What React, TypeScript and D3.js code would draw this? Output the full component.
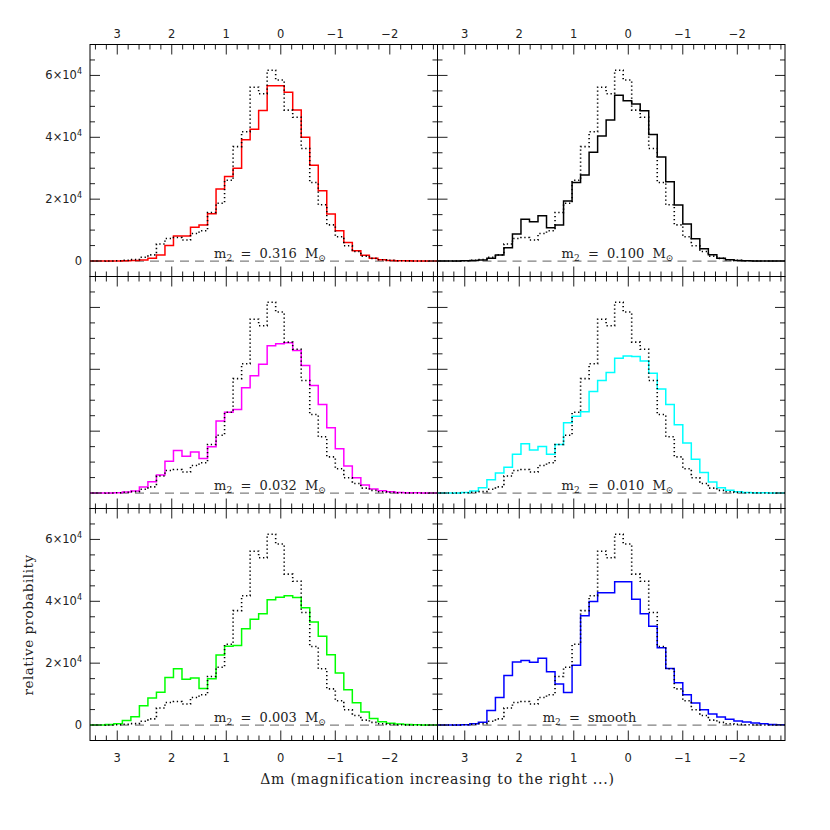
import React from 'react';
import * as d3 from 'd3';

// Histogram bins: edges start at 3.53125 mag and step by -0.15625 mag (41 bins)
const binEdgeStart = 3.53125;
const binWidth = 0.15625;

const xTickLabels = [3, 2, 1, 0, -1, -2];
const yTickValues = [0, 20000, 40000, 60000];
const yTickMantissa = ['0', '2', '4', '6'];

const referenceDotted = [0, 0, 30, 100, 250, 450, 1200, 2000, 5500, 7300, 7600, 6800, 8900, 9800, 15700, 18700, 26100, 37000, 41800, 56200, 54100, 61700, 58500, 48800, 46500, 36400, 25400, 18200, 11700, 7850, 4950, 3100, 1600, 860, 430, 200, 100, 50, 30, 10, 0];
const m316 = [0, 0, 20, 50, 120, 200, 320, 860, 1950, 5000, 8100, 8100, 10900, 11650, 15300, 23300, 27300, 30000, 39200, 42600, 48700, 56650, 56650, 54600, 48800, 40000, 31000, 22700, 15200, 9800, 6000, 3350, 1850, 860, 430, 200, 100, 60, 30, 10, 0];
const m100 = [0, 0, 20, 60, 200, 320, 860, 1950, 4300, 8750, 13500, 12700, 14600, 10800, 11650, 19400, 25400, 27800, 35200, 40400, 45600, 53600, 51800, 50800, 48600, 40900, 33600, 25600, 18100, 12000, 7200, 4000, 2050, 860, 430, 200, 100, 50, 30, 10, 0];
const m032 = [0, 0, 30, 100, 320, 650, 1950, 3650, 5800, 10300, 13750, 11900, 13300, 11200, 15000, 23300, 26100, 27000, 34000, 37900, 41600, 47600, 48300, 48600, 46100, 41200, 34800, 28600, 21100, 14300, 8700, 4950, 2600, 1300, 750, 430, 200, 100, 60, 30, 10];
const m010 = [0, 0, 50, 200, 650, 1700, 4300, 6450, 8300, 12500, 15900, 13900, 15050, 12500, 15700, 22700, 24800, 26300, 32800, 36400, 39000, 43600, 44300, 44100, 42700, 38700, 33600, 28600, 22100, 16200, 10900, 6600, 3550, 1700, 860, 430, 200, 100, 60, 30, 10];
const m003 = [0, 50, 150, 430, 1500, 2700, 6200, 8700, 10600, 15400, 18200, 14800, 15200, 11800, 15000, 22600, 25500, 25700, 31100, 34200, 36000, 40500, 41300, 41800, 41200, 37900, 33300, 28700, 22700, 16800, 11400, 7200, 4200, 2150, 1075, 540, 320, 150, 80, 30, 10];
const mSmooth = [0, 0, 30, 100, 430, 860, 4700, 8900, 16000, 20400, 20900, 20300, 21600, 17200, 13300, 10500, 19350, 35300, 39900, 42800, 42800, 46300, 46300, 40700, 36000, 31900, 25000, 18300, 13650, 9800, 7100, 4950, 3550, 2600, 1830, 1300, 970, 650, 430, 200, 100];

const panelColors = ['#ff0000', '#000000', '#ff00ff', '#00ffff', '#00ff00', '#0000ff'];
const panelMasses = ['0.316', '0.100', '0.032', '0.010', '0.003', 'smooth'];
const panelSeries = [m316, m100, m032, m010, m003, mSmooth];

const FONT_SANS = 'DejaVu Sans, sans-serif';
const FONT_SERIF = 'DejaVu Serif, serif';

const LEFT = 90;
const PW = 347.5;
const TOP = 44.5;
const PH = 232;

function histPath(values: number[], x: d3.ScaleLinear<number, number>, y: d3.ScaleLinear<number, number>) {
  const pts: [number, number][] = values.map((v, k) => [binEdgeStart - k * binWidth, v]);
  pts.push([binEdgeStart - values.length * binWidth, values[values.length - 1]]);
  const line = d3.line<[number, number]>()
    .x((d) => x(d[0]))
    .y((d) => y(d[1]))
    .curve(d3.curveStepAfter);
  return line(pts) || '';
}

function Panel({ idx }: { idx: number }) {
  const col = idx % 2;
  const row = Math.floor(idx / 2);
  const x0 = LEFT + col * PW;
  const y0 = TOP + row * PH;
  const x = d3.scaleLinear().domain([3.5, -2.875]).range([x0, x0 + PW]);
  const y = d3.scaleLinear().domain([-5000, 70000]).range([y0 + PH, y0]);
  const clipId = `clip${idx}`;

  const majorX = d3.range(-2, 4, 1);
  const minorX = d3.range(-28, 35, 2).map((v) => v / 10).filter((v) => Math.abs(v - Math.round(v)) > 1e-6);
  const majorY = yTickValues;
  const minorY = d3.range(5000, 70000, 5000).filter((v) => v % 20000 !== 0);

  const tickColor = '#222';
  const ticks: React.ReactElement[] = [];
  majorX.forEach((v, i) => {
    ticks.push(<line key={`xt${i}`} x1={x(v)} x2={x(v)} y1={y0} y2={y0 + 10} />);
    ticks.push(<line key={`xb${i}`} x1={x(v)} x2={x(v)} y1={y0 + PH} y2={y0 + PH - 10} />);
  });
  minorX.forEach((v, i) => {
    ticks.push(<line key={`mxt${i}`} x1={x(v)} x2={x(v)} y1={y0} y2={y0 + 5} />);
    ticks.push(<line key={`mxb${i}`} x1={x(v)} x2={x(v)} y1={y0 + PH} y2={y0 + PH - 5} />);
  });
  majorY.forEach((v, i) => {
    ticks.push(<line key={`yl${i}`} x1={x0} x2={x0 + 10} y1={y(v)} y2={y(v)} />);
    ticks.push(<line key={`yr${i}`} x1={x0 + PW} x2={x0 + PW - 10} y1={y(v)} y2={y(v)} />);
  });
  minorY.forEach((v, i) => {
    ticks.push(<line key={`myl${i}`} x1={x0} x2={x0 + 5} y1={y(v)} y2={y(v)} />);
    ticks.push(<line key={`myr${i}`} x1={x0 + PW} x2={x0 + PW - 5} y1={y(v)} y2={y(v)} />);
  });

  const labelCenter = panelMasses[idx] === 'smooth' ? x0 + 152 : x0 + 180;
  const yLab = y(0) - 3.5;

  return (
    <g>
      <defs>
        <clipPath id={clipId}>
          <rect x={x0} y={y0} width={PW} height={PH} />
        </clipPath>
      </defs>
      <g clipPath={`url(#${clipId})`}>
        <line x1={x0} x2={x0 + PW} y1={y(0)} y2={y(0)} stroke="#808080" strokeWidth={1.2} strokeDasharray="9 6" />
        <path d={histPath(panelSeries[idx], x, y)} fill="none" stroke={panelColors[idx]} strokeWidth={1.5} />
        <path d={histPath(referenceDotted, x, y)} fill="none" stroke="#000" strokeWidth={1.6} strokeDasharray="1.3 2.7" />
      </g>
      <g stroke={tickColor} strokeWidth={1}>{ticks}</g>
      <rect x={x0} y={y0} width={PW} height={PH} fill="none" stroke="#000" strokeWidth={1} />
      <text x={labelCenter} y={yLab} textAnchor="middle" fontFamily={FONT_SERIF} fontSize={13} fill="#222" xmlSpace="preserve">
        <tspan>m</tspan>
        <tspan fontSize={9} dy={3}>2</tspan>
        <tspan dy={-3}>{panelMasses[idx] === 'smooth' ? '  =  smooth' : `  =  ${panelMasses[idx]}  M`}</tspan>
        {panelMasses[idx] !== 'smooth' && <tspan fontSize={9} dy={3}>⊙</tspan>}
      </text>
      {row === 0 && xTickLabels.map((v, i) => (
        <text key={`tl${i}`} x={x(v)} y={38} textAnchor="middle" fontFamily={FONT_SANS} fontSize={11.5} fill="#222">
          {v < 0 ? `−${-v}` : `${v}`}
        </text>
      ))}
      {row === 2 && xTickLabels.map((v, i) => (
        <text key={`bl${i}`} x={x(v)} y={762} textAnchor="middle" fontFamily={FONT_SANS} fontSize={11.5} fill="#222">
          {v < 0 ? `−${-v}` : `${v}`}
        </text>
      ))}
      {col === 0 && row !== 1 && majorY.map((v, i) => (
        <text key={`yl${i}`} x={82} y={y(v) + 4} textAnchor="end" fontFamily={FONT_SANS} fontSize={11.5} fill="#222">
          {v === 0 ? '0' : (
            <>
              <tspan>{`${yTickMantissa[i]}×10`}</tspan>
              <tspan fontSize={8} dy={-5}>4</tspan>
            </>
          )}
        </text>
      ))}
    </g>
  );
}

export default function App() {
  return (
    <svg width={830} height={830} style={{ position: 'absolute', left: 0, top: 0, background: '#fff' }}>
      <rect x={0} y={0} width={830} height={830} fill="#fff" />
      {d3.range(6).map((i) => <Panel key={i} idx={i} />)}
      <text x={437.5} y={784} textAnchor="middle" fontFamily={FONT_SERIF} fontSize={14} letterSpacing={0.8} fill="#222">
        Δm (magnification increasing to the right ...)
      </text>
      <text transform="translate(33,625) rotate(-90)" textAnchor="middle" fontFamily={FONT_SERIF} fontSize={13.5} letterSpacing={0.5} fill="#222">
        relative probability
      </text>
    </svg>
  );
}
